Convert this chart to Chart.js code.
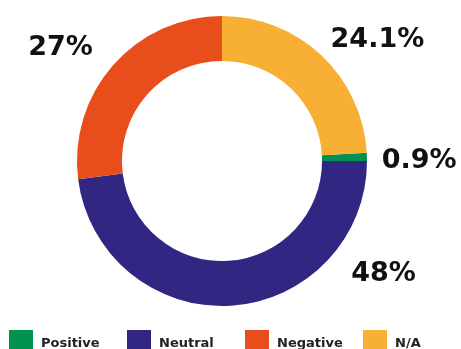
<!DOCTYPE html>
<html>
<head>
<meta charset="utf-8">
<script src="https://cdn.jsdelivr.net/npm/chart.js@4.4.1/dist/chart.umd.min.js"></script>
<style>
  html, body { margin: 0; padding: 0; background: #fff; }
  #wrap { width: 461px; height: 349px; }
</style>
</head>
<body>
<div id="wrap"><canvas id="donutChart" width="461" height="349"></canvas></div>
<script>
// data, in legend order
const categories = ['Positive', 'Neutral', 'Negative', 'N/A'];
const shares = [0.9, 48, 27, 24.1];
const valueLabels = ['0.9%', '48%', '27%', '24.1%'];
const sliceColors = ['#00924f', '#312783', '#e84e1b', '#f8b034'];

// where each % label sits around the ring (degrees clockwise from top)
const labelAngles = [90, 125, 305, 52];

// N/A starts at 12 o'clock, so rotate the first slice past it
const startRotation = shares[3] * 3.6;

const labelsPlugin = {
  id: 'outerLabels',
  afterDraw(chart) {
    const ctx = chart.ctx;
    const arc = chart.getDatasetMeta(0).data[0];
    const cx = arc.x, cy = arc.y;
    const r = arc.outerRadius * 1.36;
    ctx.save();
    ctx.fillStyle = '#111';
    ctx.font = 'bold 27px "DejaVu Sans"';
    ctx.textAlign = 'center';
    ctx.textBaseline = 'middle';
    valueLabels.forEach((txt, i) => {
      const a = labelAngles[i] * Math.PI / 180;
      ctx.fillText(txt, cx + r * Math.sin(a), cy - r * Math.cos(a));
    });

    // legend along the bottom
    ctx.font = 'bold 13px "DejaVu Sans"';
    ctx.textAlign = 'left';
    ctx.textBaseline = 'alphabetic';
    categories.forEach((name, i) => {
      const x = 9 + i * 118;
      ctx.fillStyle = sliceColors[i];
      ctx.fillRect(x, 330, 24, 22);
      ctx.fillStyle = '#222';
      ctx.fillText(name, x + 32, 347);
    });
    ctx.restore();
  }
};

const ctx = document.getElementById('donutChart').getContext('2d');
new Chart(ctx, {
  type: 'doughnut',
  data: {
    labels: categories,
    datasets: [{
      data: shares,
      backgroundColor: sliceColors,
      borderWidth: 0
    }]
  },
  options: {
    responsive: false,
    animation: false,
    rotation: startRotation,
    cutout: '69%',
    layout: {
      padding: { top: 16, bottom: 43, left: 77, right: 94 }
    },
    plugins: {
      legend: { display: false },
      tooltip: { enabled: false }
    }
  },
  plugins: [labelsPlugin]
});
</script>
</body>
</html>
